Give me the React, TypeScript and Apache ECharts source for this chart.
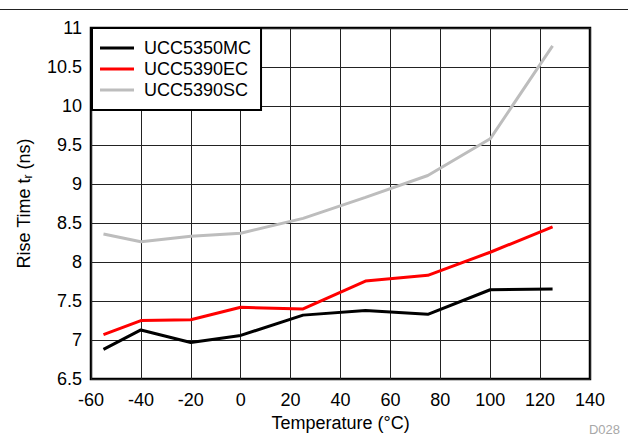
import React, { useEffect, useRef } from "react";
import * as echarts from "echarts";

const temperatures = [-55, -40, -20, 0, 25, 50, 75, 100, 125];
const ucc5350mc = [6.88, 7.13, 6.97, 7.06, 7.32, 7.38, 7.33, 7.645, 7.655];
const ucc5390ec = [7.07, 7.25, 7.26, 7.42, 7.4, 7.756, 7.83, 8.126, 8.45];
const ucc5390sc = [8.36, 8.26, 8.33, 8.37, 8.56, 8.83, 9.11, 9.58, 10.77];
const seriesNames = ["UCC5350MC", "UCC5390EC", "UCC5390SC"];
const seriesColors = ["#000000", "#ff0000", "#bdbdbd"];

const FONT = "Liberation Sans, Arial, Helvetica, sans-serif";

export default function App() {
  const ref = useRef<HTMLDivElement>(null);
  useEffect(() => {
    if (!ref.current) return;
    const chart = echarts.init(ref.current, null, { renderer: "svg" });
    const allData = [ucc5350mc, ucc5390ec, ucc5390sc];
    chart.setOption({
      animation: false,
      backgroundColor: "#ffffff",
      textStyle: { fontFamily: FONT },
      grid: {
        left: 91,
        right: 38,
        top: 28,
        bottom: 57,
        show: true,
        borderColor: "#000",
        borderWidth: 2.5,
        backgroundColor: "transparent",
      },
      legend: {
        orient: "vertical",
        left: 92,
        top: 28,
        data: seriesNames,
        icon: "rect",
        itemWidth: 34,
        itemHeight: 3,
        itemGap: 3,
        padding: [11, 10, 11, 8],
        backgroundColor: "#fff",
        borderColor: "#000",
        borderWidth: 2,
        textStyle: {
          fontFamily: FONT,
          fontSize: 18,
          color: "#000",
          lineHeight: 18,
          padding: [0, 0, 0, 5],
        },
      },
      xAxis: {
        type: "value",
        min: -60,
        max: 140,
        interval: 20,
        name: "Temperature (°C)",
        nameLocation: "middle",
        nameGap: 33,
        nameTextStyle: { fontFamily: FONT, fontSize: 18, color: "#000" },
        axisLine: { show: false },
        axisTick: { show: false },
        axisLabel: { fontFamily: FONT, fontSize: 18, color: "#000", margin: 12 },
        splitLine: { show: true, lineStyle: { color: "#222", width: 1 } },
      },
      yAxis: {
        type: "value",
        min: 6.5,
        max: 11,
        interval: 0.5,
        name: "Rise Time t{sub|r} (ns)",
        nameLocation: "middle",
        nameGap: 57,
        nameTextStyle: {
          fontFamily: FONT,
          fontSize: 18,
          color: "#000",
          rich: {
            sub: { fontFamily: FONT, fontSize: 12, color: "#000", verticalAlign: "bottom", padding: [8, 0, 0, 0] },
          },
        },
        axisLine: { show: false },
        axisTick: { show: false },
        axisLabel: { fontFamily: FONT, fontSize: 18, color: "#000", margin: 9 },
        splitLine: { show: true, lineStyle: { color: "#222", width: 1 } },
      },
      series: seriesNames.map((name, i) => ({
        name,
        type: "line",
        data: temperatures.map((t, j) => [t, allData[i][j]]),
        symbol: "none",
        lineStyle: { color: seriesColors[i], width: 3 },
        itemStyle: { color: seriesColors[i] },
        z: 3 - i,
      })),
      graphic: [
        {
          type: "line",
          shape: { x1: 0, y1: 9.5, x2: 628, y2: 9.5 },
          style: { stroke: "#222", lineWidth: 1 },
        },
        {
          type: "text",
          right: 8,
          top: 423,
          style: { text: "D028", fill: "#a8a8a8", fontSize: 13, fontFamily: FONT },
        },
      ],
    });
    return () => chart.dispose();
  }, []);
  return (
    <div
      ref={ref}
      style={{ position: "fixed", left: 0, top: 0, width: 628, height: 437 }}
    />
  );
}
